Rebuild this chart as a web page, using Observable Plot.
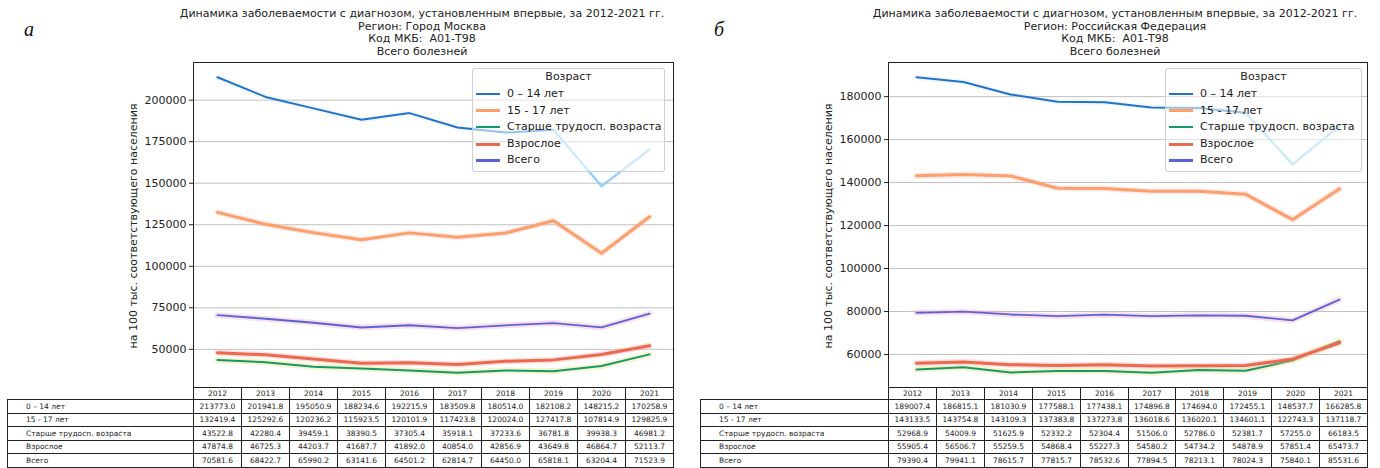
<!DOCTYPE html>
<html><head><meta charset="utf-8">
<script src="https://cdn.jsdelivr.net/npm/d3@7"></script>
<script src="https://cdn.jsdelivr.net/npm/@observablehq/plot@0.6"></script>
<style>
body{margin:0;background:#fff;font-family:"DejaVu Sans",sans-serif;color:#222;}
#root{position:relative;width:1380px;height:468px;overflow:hidden;background:#fff;}
.t{position:absolute;font-size:11px;white-space:pre;transform:translate(-50%,-50%);color:#222;}
.ylab{position:absolute;font-size:11px;white-space:nowrap;transform:translate(-50%,-50%) rotate(-90deg);color:#222;}
.letter{position:absolute;font-family:"Liberation Serif",serif;font-style:italic;font-size:20px;color:#111;}
.cell{position:absolute;box-sizing:border-box;border:1px solid #222;font-size:7.5px;line-height:1;display:flex;align-items:center;justify-content:center;white-space:nowrap;overflow:hidden;color:#222;}
.cell.lab{justify-content:flex-start;}
.legend{position:absolute;box-sizing:border-box;border:1px solid #cfcfcf;border-radius:3px;background:rgba(255,255,255,0.55);font-size:11px;}
.legend .ttl{position:absolute;left:0;right:0;text-align:center;}
.legend .it{position:absolute;white-space:nowrap;}
.legend .hd{position:absolute;height:2.5px;}
</style></head>
<body><div id="root"></div>
<script>
const years = [2012, 2013, 2014, 2015, 2016, 2017, 2018, 2019, 2020, 2021];
const seriesNames = ["0 – 14 лет", "15 - 17 лет", "Старше трудосп. возраста", "Взрослое", "Всего"];
const legendTitle = "Возраст";
const yLabel = "на 100 тыс. соответствующего населения";

// Город Москва
const moscow014   = [213773.0, 201941.8, 195050.9, 188234.6, 192215.9, 183509.8, 180514.0, 182108.2, 148215.2, 170258.9];
const moscow1517  = [132419.4, 125292.6, 120236.2, 115923.5, 120101.9, 117423.8, 120024.0, 127417.8, 107814.9, 129825.9];
const moscowOld   = [43522.8, 42280.4, 39459.1, 38390.5, 37305.4, 35918.1, 37233.6, 36781.8, 39938.3, 46981.2];
const moscowAdult = [47874.8, 46725.3, 44203.7, 41687.7, 41892.0, 40854.0, 42856.9, 43649.8, 46864.7, 52113.7];
const moscowTotal = [70581.6, 68422.7, 65990.2, 63141.6, 64501.2, 62814.7, 64450.0, 65818.1, 63204.4, 71523.9];
const moscowTicks = [50000, 75000, 100000, 125000, 150000, 175000, 200000];

// Российская Федерация
const rf014   = [189007.4, 186815.1, 181030.9, 177588.1, 177438.1, 174896.8, 174694.0, 172455.1, 148537.7, 166285.8];
const rf1517  = [143133.5, 143754.8, 143109.3, 137383.8, 137273.8, 136018.6, 136020.1, 134601.1, 122743.3, 137118.7];
const rfOld   = [52968.9, 54009.9, 51625.9, 52332.2, 52304.4, 51506.0, 52786.0, 52381.7, 57255.0, 66183.5];
const rfAdult = [55905.4, 56506.7, 55259.5, 54868.4, 55227.3, 54580.2, 54734.2, 54878.9, 57851.4, 65473.7];
const rfTotal = [79390.4, 79941.1, 78615.7, 77815.7, 78532.6, 77894.5, 78213.1, 78024.3, 75840.1, 85531.6];
const rfTicks = [60000, 80000, 100000, 120000, 140000, 160000, 180000];

const titleMoscow = ["Динамика заболеваемости с диагнозом, установленным впервые, за 2012-2021 гг.", "Регион: Город Москва", "Код МКБ:  А01-Т98", "Всего болезней"];
const titleRF = ["Динамика заболеваемости с диагнозом, установленным впервые, за 2012-2021 гг.", "Регион: Российская Федерация", "Код МКБ:  А01-Т98", "Всего болезней"];

const colors = ["#1f74c9", "#fb9f6b", "#16996a", "#ea6a4f", "#5b62d8"];
const halos  = ["#c6dcf3", "#ffbcbc", "#e8e070", "#f6a6a6", "#f2a6c6"];
const haloOpacity = [0.2, 0.35, 0.35, 0.35, 0.35];
const widths = [2, 3, 2, 3, 1.8];
const lightBlue = "#8ccdf3";

const root = document.getElementById("root");
function el(cls, css, text) {
  const d = document.createElement("div");
  d.className = cls;
  Object.assign(d.style, css);
  if (text != null) d.textContent = text;
  root.appendChild(d);
  return d;
}

function panel(cfg) {
  const values = cfg.values;
  const rows = [];
  seriesNames.forEach((n, i) => values[i].forEach((v, j) => rows.push({s: n, i, year: years[j], value: v})));
  const [lo, hi] = d3.extent(rows, d => d.value);
  const m = (hi - lo) * 0.05;
  const marks = [Plot.gridY(cfg.ticks, {stroke: "#b0b0b0", strokeOpacity: 1, strokeWidth: 0.8})];
  seriesNames.forEach((n, i) => {
    const data = rows.filter(d => d.i === i);
    marks.push(Plot.line(data, {x: "year", y: "value", stroke: halos[i], strokeWidth: 6, strokeOpacity: haloOpacity[i]}));
    if (i === 0) {
      marks.push(Plot.line(data.filter(d => d.year <= 2019), {x: "year", y: "value", stroke: colors[0], strokeWidth: widths[0]}));
      marks.push(Plot.line(data.filter(d => d.year >= 2019), {x: "year", y: "value", stroke: lightBlue, strokeWidth: widths[0]}));
    } else {
      marks.push(Plot.line(data, {x: "year", y: "value", stroke: colors[i], strokeWidth: widths[i]}));
    }
  });
  marks.push(Plot.axisY(cfg.ticks, {tickSize: 4, tickPadding: 3, tickFormat: d3.format("d"), label: null, fontSize: 11}));
  marks.push(Plot.frame({stroke: "#222", strokeWidth: 1}));
  const width = cfg.svgWidth;
  const svg = Plot.plot({
    width, height: 327,
    marginTop: 1, marginBottom: 1,
    marginLeft: cfg.frameL - cfg.offset,
    marginRight: width - (cfg.frameR - cfg.offset),
    x: {type: "point", domain: years, padding: 0.5, axis: null},
    y: {domain: [lo - m, hi + m], axis: null},
    style: {fontFamily: "DejaVu Sans", fontSize: "11px", color: "#222", background: "transparent", overflow: "visible"},
    marks
  });
  svg.style.position = "absolute";
  svg.style.left = cfg.offset + "px";
  svg.style.top = "61px";
  root.appendChild(svg);

  cfg.title.forEach((line, k) => el("t", {left: cfg.titleX + "px", top: (13 + k * 12.7) + "px"}, line));
  el("letter", {left: cfg.letterX + "px", top: "18px"}, cfg.letter);
  el("ylab", {left: cfg.ylabX + "px", top: "226px"}, yLabel);

  const lg = el("legend", {left: cfg.legL + "px", top: "68px", width: (cfg.legR - cfg.legL) + "px", height: "104px"});
  const t = document.createElement("div"); t.className = "ttl"; t.style.top = "1px"; t.textContent = legendTitle; lg.appendChild(t);
  seriesNames.forEach((n, i) => {
    const cy = 25 + i * 16.6;
    const h = document.createElement("div"); h.className = "hd";
    Object.assign(h.style, {left: "3px", width: "24px", top: (cy - 1.25) + "px", background: colors[i], height: (i === 1 || i === 3 ? 3 : 2.5) + "px"});
    lg.appendChild(h);
    const it = document.createElement("div"); it.className = "it";
    Object.assign(it.style, {left: "34px", top: (cy - 7) + "px"}); it.textContent = n;
    lg.appendChild(it);
  });

  const colW = (cfg.frameR - cfg.frameL) / years.length;
  years.forEach((y, j) => {
    const x0 = Math.round(cfg.frameL + j * colW), x1 = Math.round(cfg.frameL + (j + 1) * colW);
    el("cell", {left: x0 + "px", top: "387px", width: (x1 - x0 + 1) + "px", height: "13px"}, String(y));
  });
  const rowTop = 399, rowH = 13.6;
  seriesNames.forEach((n, i) => {
    const y0 = Math.round(rowTop + i * rowH), y1 = Math.round(rowTop + (i + 1) * rowH);
    el("cell lab", {left: cfg.labL + "px", top: y0 + "px", width: (cfg.frameL - cfg.labL + 1) + "px", height: (y1 - y0 + 1) + "px", paddingLeft: "18px"}, n);
    values[i].forEach((v, j) => {
      const x0 = Math.round(cfg.frameL + j * colW), x1 = Math.round(cfg.frameL + (j + 1) * colW);
      el("cell", {left: x0 + "px", top: y0 + "px", width: (x1 - x0 + 1) + "px", height: (y1 - y0 + 1) + "px"}, v.toFixed(1));
    });
  });
}

panel({
  values: [moscow014, moscow1517, moscowOld, moscowAdult, moscowTotal],
  ticks: moscowTicks, offset: 0, svgWidth: 690, frameL: 193, frameR: 673,
  title: titleMoscow, titleX: 422, letter: "а", letterX: 24, ylabX: 133,
  legL: 472, legR: 665, labL: 7
});
panel({
  values: [rf014, rf1517, rfOld, rfAdult, rfTotal],
  ticks: rfTicks, offset: 690, svgWidth: 690, frameL: 888, frameR: 1367,
  title: titleRF, titleX: 1115, letter: "б", letterX: 714, ylabX: 828,
  legL: 1165, legR: 1362, labL: 700
});
</script></body></html>
